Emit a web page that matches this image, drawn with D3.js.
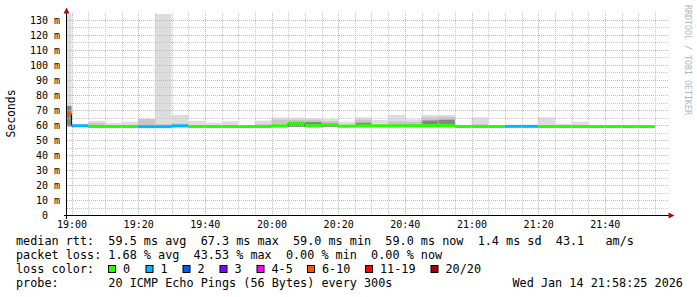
<!DOCTYPE html>
<html lang="en">
<head>
<meta charset="UTF-8">
<title>smokeping latency</title>
<script src="https://d3js.org/d3.v7.min.js"></script>
<style>
  * { margin: 0; padding: 0; }
  body { background: #fff; }
  svg text { font-family: "DejaVu Sans Mono", monospace; white-space: pre; }
</style>
</head>
<body>
<svg id="chart" width="697" height="297"></svg>
<script>
// 5 minute steps, start time of each column
const colStart = ["18:55","19:00","19:05","19:10","19:15","19:20","19:25","19:30","19:35","19:40","19:45","19:50",
  "19:55","20:00","20:05","20:10","20:15","20:20","20:25","20:30","20:35","20:40","20:45","20:50",
  "20:55","21:00","21:05","21:10","21:15","21:20","21:25","21:30","21:35","21:40","21:45","21:50"];
// median rtt in ms
const median = [67.5, 59.5, 59.0, 59.0, 59.0, 58.9, 58.9, 59.4, 59.0, 59.0, 59.0, 59.0,
  59.0, 59.4, 61.2, 59.6, 60.2, 59.2, 59.5, 59.5, 59.5, 59.5, 59.7, 59.7,
  59.0, 59.0, 59.0, 59.1, 59.1, 59.0, 59.0, 59.0, 59.0, 59.0, 59.0, 59.0];
// index into lossLabels / lossColors
const lossClass = [5, 1, 0, 0, 0, 1, 1, 1, 0, 0, 0, 0,
  0, 0, 0, 0, 0, 0, 0, 0, 0, 0, 0, 0,
  0, 0, 0, 1, 1, 0, 0, 0, 0, 0, 0, 0];
// smoke: min, max and inner bands (0 = none)
const smokeMin = [59.0, 58.6, 58.6, 58.6, 58.6, 58.5, 58.5, 58.6, 58.6, 58.6, 58.6, 58.6,
  58.6, 58.6, 58.8, 58.6, 58.8, 58.6, 58.6, 58.6, 58.6, 58.6, 58.6, 58.6,
  58.6, 58.6, 58.6, 58.6, 58.6, 58.6, 58.6, 58.6, 58.6, 58.6, 58.6, 58.6];
const smokeMax = [140, 60.3, 62.7, 61.5, 62.2, 64.0, 140, 66.7, 62.7, 61.6, 62.4, 59.8,
  62.9, 64.9, 64.9, 64.4, 64.0, 62.2, 65.1, 63.3, 66.7, 63.8, 66.7, 66.7,
  59.0, 65.1, 59.0, 59.1, 59.1, 65.1, 60.8, 62.2, 59.0, 59.0, 59.0, 59.0];
const smokeMid = [0, 0, 61.3, 0, 0, 64.0, 60.5, 61.0, 0, 0, 0, 0,
  60.5, 63.5, 63.5, 63.5, 62.5, 60.0, 63.5, 0, 62.5, 62.0, 65.0, 65.5,
  0, 60.5, 0, 0, 0, 60.0, 0, 0, 0, 0, 0, 0];
const smokeDark = [72.7, 0, 0, 0, 0, 0, 0, 0, 0, 0, 0, 0,
  0, 0, 60.7, 62.0, 60.0, 0, 61.5, 0, 0, 0, 63.0, 63.5,
  0, 0, 0, 0, 0, 0, 0, 0, 0, 0, 0, 0];

const lossLabels = ["0", "1", "2", "3", "4-5", "6-10", "11-19", "20/20"];
const lossColors = ["#26ff00", "#00b8ff", "#0059ff", "#7e00ff", "#ff00ff", "#ff5500", "#ff0000", "#a10000"];
const lossSwatchX = [108, 145.5, 182.5, 219.5, 256.5, 307, 365, 430.5];

const yTicks = [0, 10, 20, 30, 40, 50, 60, 70, 80, 90, 100, 110, 120, 130];
const xTicks = ["19:00", "19:20", "19:40", "20:00", "20:20", "20:40", "21:00", "21:20", "21:40"];

const legendLines = [
  "median rtt:  59.5 ms avg  67.3 ms max  59.0 ms min  59.0 ms now  1.4 ms sd  43.1   am/s",
  "packet loss: 1.68 % avg  43.53 % max  0.00 % min  0.00 % now"
];
const probeText = "probe:       20 ICMP Echo Pings (56 Bytes) every 300s";
const dateText = "Wed Jan 14 21:58:25 2026";

const day = s => { const [h, m] = s.split(":").map(Number); return new Date(2026, 0, 14, h, m); };

const L = 67, R = 667, T = 14, B = 215;
const x = d3.scaleTime()
  .domain([new Date(2026, 0, 14, 18, 58, 39), new Date(2026, 0, 14, 21, 58, 39)])
  .range([L, R]);
const y = d3.scaleLinear().domain([0, 134]).range([B, T]);

const svg = d3.select("#chart");
svg.append("rect").attr("width", 697).attr("height", 297).attr("fill", "#fff");

svg.append("clipPath").attr("id", "plot")
  .append("rect").attr("x", L).attr("y", T).attr("width", R - L).attr("height", B - T);

const plot = svg.append("g").attr("clip-path", "url(#plot)");
const cols = colStart.map((s, i) => ({ t0: day(s), t1: d3.timeMinute.offset(day(s), 5), i }));

// smoke bands
const band = (lo, hi, color) => plot.append("g").selectAll("rect")
  .data(cols.filter(c => hi[c.i] > lo[c.i]))
  .join("rect")
  .attr("x", c => x(c.t0))
  .attr("width", c => x(c.t1) - x(c.t0))
  .attr("y", c => y(hi[c.i]))
  .attr("height", c => y(lo[c.i]) - y(hi[c.i]))
  .attr("fill", color);
band(smokeMin, smokeMax, "#dddddd");
band(smokeMin, smokeMid, "#c6c6c6");
band(smokeMin, smokeDark, "#858585");

// grid
const grid = svg.append("g").attr("shape-rendering", "crispEdges");
const minorY = d3.range(5, 131, 5).filter(v => v % 10 !== 0);
grid.selectAll(".gy").data(minorY).join("line")
  .attr("x1", L).attr("x2", R + 1).attr("y1", d => Math.round(y(d)) + 0.5).attr("y2", d => Math.round(y(d)) + 0.5)
  .attr("stroke", "#c8c8c8").attr("stroke-dasharray", "1,1");
grid.selectAll(".my").data(yTicks.slice(1)).join("line")
  .attr("x1", L).attr("x2", R + 1).attr("y1", d => Math.round(y(d)) + 0.5).attr("y2", d => Math.round(y(d)) + 0.5)
  .attr("stroke", "#eaa5a5").attr("stroke-dasharray", "1,1");
const minorX = d3.timeMinute.every(5).range(x.domain()[0], x.domain()[1]);
grid.selectAll(".gx").data(minorX.filter(d => d.getMinutes() % 20 !== 0)).join("line")
  .attr("y1", T - 1).attr("y2", B).attr("x1", d => Math.round(x(d)) + 0.5).attr("x2", d => Math.round(x(d)) + 0.5)
  .attr("stroke", "#c8c8c8").attr("stroke-dasharray", "1,1");
grid.selectAll(".mx").data(xTicks.map(day)).join("line")
  .attr("y1", T - 1).attr("y2", B).attr("x1", d => Math.round(x(d)) + 0.5).attr("x2", d => Math.round(x(d)) + 0.5)
  .attr("stroke", "#eaa5a5").attr("stroke-dasharray", "1,1");

// median line, coloured by loss
const med = svg.append("g").attr("clip-path", "url(#plot)");
med.selectAll("line.v").data(cols.slice(1)).join("line")
  .attr("x1", c => x(c.t0)).attr("x2", c => x(c.t0))
  .attr("y1", c => y(median[c.i - 1])).attr("y2", c => y(median[c.i]))
  .attr("stroke", "#111").attr("stroke-width", 1);
med.selectAll("rect").data(cols).join("rect")
  .attr("x", c => x(c.t0)).attr("width", c => x(c.t1) - x(c.t0))
  .attr("y", c => y(median[c.i]) - 1.5).attr("height", 3)
  .attr("fill", c => lossColors[lossClass[c.i]]);

// axes
const ax = svg.append("g").attr("shape-rendering", "crispEdges");
ax.append("line").attr("x1", 64).attr("x2", 669).attr("y1", B + 0.5).attr("y2", B + 0.5).attr("stroke", "#000");
ax.append("line").attr("x1", 66.5).attr("x2", 66.5).attr("y1", 12).attr("y2", B + 4).attr("stroke", "#000");
svg.append("path").attr("d", "M63.5,13.5 L69.5,13.5 L66.5,7.5 Z").attr("fill", "#a01010");
svg.append("path").attr("d", "M668.5,212.5 L668.5,218.5 L674.5,215.5 Z").attr("fill", "#a01010");

svg.append("g").selectAll("text").data(yTicks).join("text")
  .attr("x", 60).attr("y", d => y(d) + 3.6)
  .attr("text-anchor", "end").attr("font-size", 10).attr("fill", "#000")
  .text(d => d === 0 ? "0  " : `${d} m`);

svg.append("g").selectAll("text").data(xTicks).join("text")
  .attr("x", d => x(day(d)) + 0.5).attr("y", 228.3)
  .attr("text-anchor", "middle").attr("font-size", 10).attr("fill", "#000")
  .text(d => d);

svg.append("text")
  .attr("transform", "translate(14.5,113.5) rotate(-90)")
  .attr("text-anchor", "middle").attr("font-size", 11.4).attr("fill", "#000")
  .text("Seconds");

svg.append("text")
  .attr("transform", "translate(685,5) rotate(90)")
  .attr("font-size", 8.3).attr("fill", "#b4b4b4")
  .text("RRDTOOL / TOBI OETIKER");

// legend
const leg = svg.append("g").attr("font-size", 11.8).attr("fill", "#000");
leg.selectAll("text.l").data(legendLines).join("text")
  .attr("x", 16).attr("y", (d, i) => 245 + i * 14).text(d => d);
leg.append("text").attr("x", 16).attr("y", 273).text("loss color:");
leg.selectAll("rect").data(lossColors).join("rect")
  .attr("x", (d, i) => lossSwatchX[i] + 0.5).attr("y", 265.5).attr("width", 7).attr("height", 7)
  .attr("fill", d => d).attr("stroke", "#000").attr("stroke-width", 1);
leg.selectAll("text.c").data(lossLabels).join("text")
  .attr("x", (d, i) => lossSwatchX[i] + 15).attr("y", 273).text(d => d);
leg.append("text").attr("x", 16).attr("y", 287).text(probeText);
leg.append("text").attr("x", 512.5).attr("y", 287).text(dateText);
</script>
</body>
</html>
